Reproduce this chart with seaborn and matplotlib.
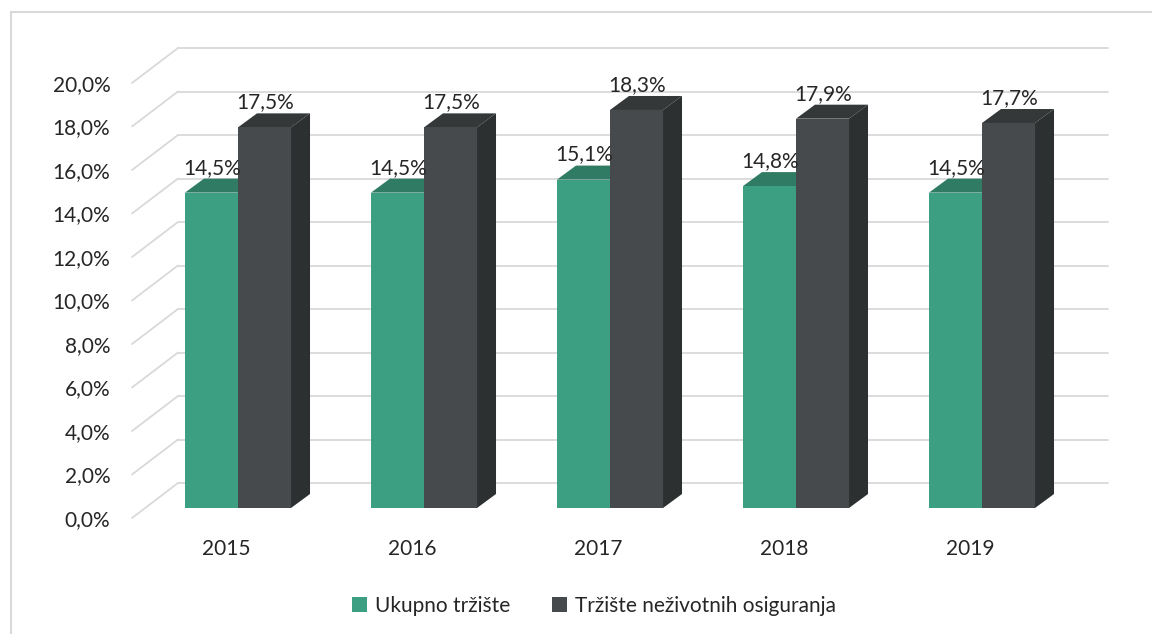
import numpy as np
import pandas as pd
import matplotlib
matplotlib.use('Agg')
import matplotlib.pyplot as plt
import matplotlib.transforms as mtransforms
from matplotlib.patches import Polygon
from matplotlib.lines import Line2D
import seaborn as sns

years = ['2015', '2016', '2017', '2018', '2019']
ukupno = [14.5, 14.5, 15.1, 14.8, 14.5]
nezivotno = [17.5, 17.5, 18.3, 17.9, 17.7]
series_names = ['Ukupno tržište', 'Tržište neživotnih osiguranja']
y_ticks = [0, 2, 4, 6, 8, 10, 12, 14, 16, 18, 20]

front_colors = ['#3c9f82', '#464a4c']
top_colors = ['#2f7b63', '#343839']
side_colors = ['#2a6d58', '#2c3031']

df = pd.DataFrame({
    'year': years * 2,
    'value': ukupno + nezivotno,
    'series': [series_names[0]] * 5 + [series_names[1]] * 5,
})

sns.set_style('white')
plt.rcParams['font.family'] = ['Lato', 'DejaVu Sans']
FS = 15
TXT = '#262626'

W, H = 1152, 634
fig = plt.figure(figsize=(W / 100, H / 100), dpi=100)
# axes = plane of the bar fronts, in pixels
ax_left, ax_right, ax_bottom, ax_top = 145, 1075, 508, 73
ax = fig.add_axes([ax_left / W, 1 - ax_bottom / H,
                   (ax_right - ax_left) / W, (ax_bottom - ax_top) / H])

sns.barplot(data=df, x='year', y='value', hue='series', order=years,
            hue_order=series_names, palette=front_colors, width=0.57,
            saturation=1, ax=ax, legend=False, zorder=3, linewidth=0)

ax.set_xlim(-0.5, 4.5)
ax.set_ylim(0, 20)
for s in ax.spines.values():
    s.set_visible(False)
ax.set_xlabel('')
ax.set_ylabel('')

# back wall gridlines and floor diagonals
back = mtransforms.offset_copy(ax.transData, fig=fig, x=33, y=25, units='dots')
front = mtransforms.offset_copy(ax.transData, fig=fig, x=-13, y=-10, units='dots')
grid_c = '#d9d9d9'
ident = mtransforms.IdentityTransform()
for t in y_ticks:
    ax.plot([-0.5, 4.5], [t, t], color=grid_c, lw=1.3, transform=back,
            zorder=0, clip_on=False)
    p0 = back.transform((-0.5, t))
    p1 = front.transform((-0.5, t))
    ax.add_line(Line2D([p0[0], p1[0]], [p0[1], p1[1]], color=grid_c, lw=1.3,
                       transform=ident, zorder=0, clip_on=False))

# y tick labels on front plane
ax.set_yticks(y_ticks)
ax.set_yticklabels([f'{t:.1f}'.replace('.', ',') + '%' for t in y_ticks])
ax.tick_params(axis='y', length=0, pad=25, labelsize=FS, labelcolor=TXT)
ax.tick_params(axis='x', length=0, pad=22, labelsize=FS, labelcolor=TXT)
for lab in ax.get_yticklabels():
    lab.set_transform(lab.get_transform() +
                      mtransforms.ScaledTranslation(0, -10 / 100, fig.dpi_scale_trans))
for lab in ax.get_xticklabels():
    lab.set_transform(lab.get_transform() +
                      mtransforms.ScaledTranslation(-12 / 100, 0, fig.dpi_scale_trans))

# 3D faces for the bars
dx, dy = 19, 14
bars = [p for p in ax.patches if p.get_height() > 0]
for i, bar in enumerate(bars):
    k = 0 if i < 5 else 1
    x0, y0 = bar.get_x(), bar.get_y()
    x1, y1 = x0 + bar.get_width(), y0 + bar.get_height()
    (ax0, ay0), (ax1, ay1) = ax.transData.transform([(x0, y0), (x1, y1)])
    top = [(ax0, ay1), (ax1, ay1), (ax1 + dx, ay1 + dy), (ax0 + dx, ay1 + dy)]
    side = [(ax1, ay0), (ax1 + dx, ay0 + dy), (ax1 + dx, ay1 + dy), (ax1, ay1)]
    z = 1 if k == 0 else 3
    bar.set_zorder(z)
    for pts, col in [(top, top_colors[k]), (side, side_colors[k])]:
        ax.add_patch(Polygon(pts, closed=True, fc=col, ec='none',
                             transform=ident, zorder=z - 0.5, clip_on=False))
    label = f'{bar.get_height():.1f}'.replace('.', ',') + '%'
    ax.annotate(label, (x0 + bar.get_width() / 2, y1), xytext=(1, 15),
                textcoords='offset pixels', ha='center', va='bottom',
                fontsize=FS, color=TXT, zorder=6, annotation_clip=False)

# legend
handles = [plt.Rectangle((0, 0), 1, 1, fc=c, ec='none') for c in front_colors]
fig.legend(handles, series_names, loc='center', bbox_to_anchor=(594 / W, 1 - 606 / H),
           ncol=2, frameon=False, fontsize=FS, handlelength=0.7, handleheight=0.7,
           handletextpad=0.4, columnspacing=2.0, labelcolor=TXT)

# outer frame (top and left edges)
fig.add_artist(Line2D([11 / W, 1], [1 - 12 / H, 1 - 12 / H], color='#d9d9d9', lw=1.5,
                      transform=fig.transFigure))
fig.add_artist(Line2D([11 / W, 11 / W], [0, 1 - 12 / H], color='#d9d9d9', lw=1.5,
                      transform=fig.transFigure))

fig.savefig('out.png', dpi=100, facecolor='white')
